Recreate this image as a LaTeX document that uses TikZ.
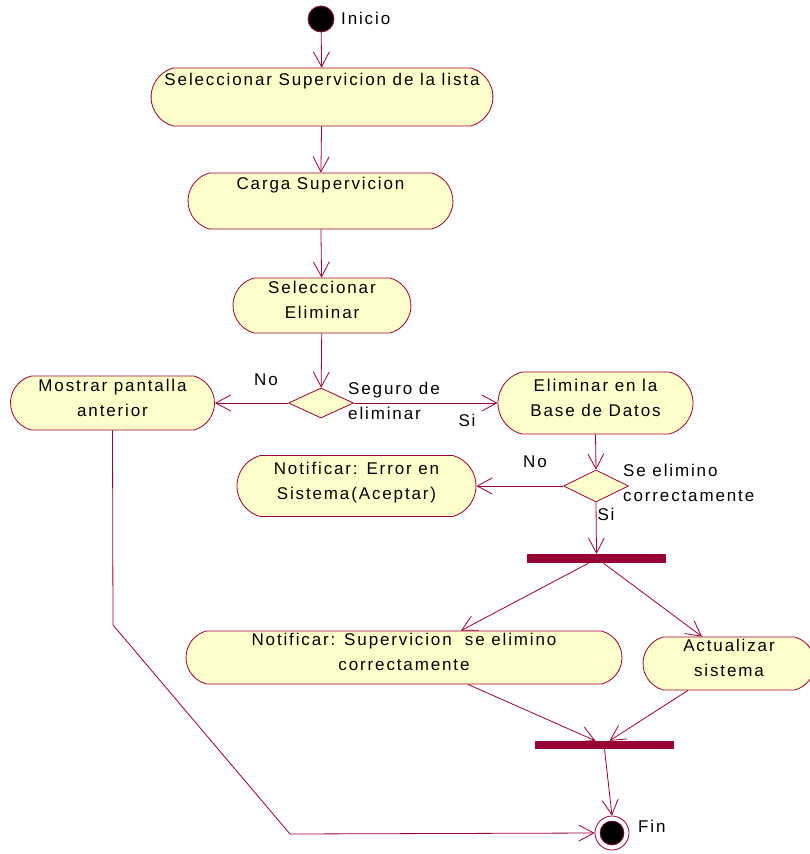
\documentclass[tikz,border=0pt]{standalone}
\usepackage{fontspec}
\setmainfont[LetterSpace=11]{Liberation Sans}
\usetikzlibrary{arrows.meta,shapes.geometric,shapes.misc}
\definecolor{roseline}{HTML}{990033}
\definecolor{rosefill}{HTML}{FFFFCC}
\begin{document}
\begin{tikzpicture}[
        x=1pt, y=-1pt,
        every node/.style={font=\fontsize{17}{25}\selectfont},
        act/.style={rounded rectangle, rounded rectangle arc length=150, draw=roseline, fill=rosefill,
          line width=0.8pt, align=center, inner sep=0pt, text height=38pt, text depth=12pt},
        decision/.style={diamond, draw=roseline, fill=rosefill, line width=0.8pt, inner sep=0pt},
        syncbar/.style={rectangle, fill=roseline, inner sep=0pt},
        lbl/.style={inner sep=0pt, align=left},
        flow/.style={-{Straight Barb[length=15pt,width=16pt]}, draw=roseline, line width=0.8pt}
        ]
      \useasboundingbox (0,0) rectangle (810,854);
      \node[circle, fill=black, draw=roseline, line width=0.8pt, minimum size=26pt, inner sep=0pt] (start) at (321,19) {};
      \node[lbl, anchor=west] (inicio) at (341,18) {Inicio};
      \node[act, minimum width=338pt, minimum height=58pt] (sel) at (322,97) {Seleccionar Supervicion de la lista\\ };
      \node[act, minimum width=265pt, minimum height=56pt] (carga) at (320.5,201) {Carga Supervicion\\ };
      \node[act, minimum width=178pt, minimum height=55pt] (elim) at (322,305.5) {Seleccionar\\Eliminar};
      \node[decision, minimum width=65pt, minimum height=30pt] (dec1) at (321,403) {};
      \node[act, minimum width=204pt, minimum height=54pt] (mostrar) at (112.5,403) {Mostrar pantalla\\anterior};
      \node[act, minimum width=195pt, minimum height=62pt] (elimbd) at (595.5,403) {Eliminar en la\\Base de Datos};
      \node[decision, minimum width=65pt, minimum height=32pt] (dec2) at (596,486) {};
      \node[act, minimum width=239pt, minimum height=61pt] (error) at (356.5,486) {Notificar: Error en\\Sistema(Aceptar)};
      \node[syncbar, minimum width=139pt, minimum height=9pt] (fork) at (596.5,558.5) {};
      \node[act, minimum width=436pt, minimum height=53pt] (notif) at (404,657.5) {Notificar: Supervicion\ \ se elimino\\correctamente};
      \node[act, minimum width=172pt, minimum height=53pt] (actual) at (729,663.5) {Actualizar\\sistema};
      \node[syncbar, minimum width=139pt, minimum height=8pt] (join) at (604.5,745) {};
      \node[circle, draw=roseline, fill=white, line width=0.8pt, minimum size=34pt, inner sep=0pt] (fin) at (612,833) {};
      \fill[black, draw=roseline, line width=0.6pt] (fin.center) circle (12);
      \node[lbl, anchor=west] (finlbl) at (638,826) {Fin};
      % guardas
      \node[lbl, anchor=west] (seguro) at (348,400.5) {Seguro de\\eliminar};
      \node[lbl] (no1) at (266,380) {No};
      \node[lbl] (si1) at (467,420) {Si};
      \node[lbl, anchor=west] (seelim) at (623,482.5) {Se elimino\\correctamente};
      \node[lbl] (no2) at (535,462) {No};
      \node[lbl] (si2) at (606,514) {Si};
      \coordinate (bendA) at (113,625);
      \coordinate (bendB) at (290,834);
      \draw[flow] (start) -- (sel);
      \draw[flow] (sel) -- (carga);
      \draw[flow] (carga) -- (elim);
      \draw[flow] (elim) -- (dec1);
      \draw[flow] (dec1.west) -- (mostrar.east);
      \draw[flow] (dec1.east) -- (elimbd.west);
      \draw[flow] (elimbd.south) -- (dec2.north);
      \draw[flow] (dec2.west) -- (error.east);
      \draw[flow] (dec2.south) -- (fork.north);
      \draw[flow] ([xshift=-8pt]fork.south) -- ([xshift=57pt]notif.north);
      \draw[flow] ([xshift=7pt]fork.south) -- ([xshift=-27pt]actual.north);
      \draw[flow] ([xshift=64pt]notif.south) -- ([xshift=-9pt]join.north);
      \draw[flow] ([xshift=-41pt]actual.south) -- ([xshift=5pt]join.north);
      \draw[flow] (join.south) -- (fin.north);
      \draw[flow] (mostrar.south) -- (bendA) -- (bendB) -- (fin.west);
    \end{tikzpicture}
\end{document}
